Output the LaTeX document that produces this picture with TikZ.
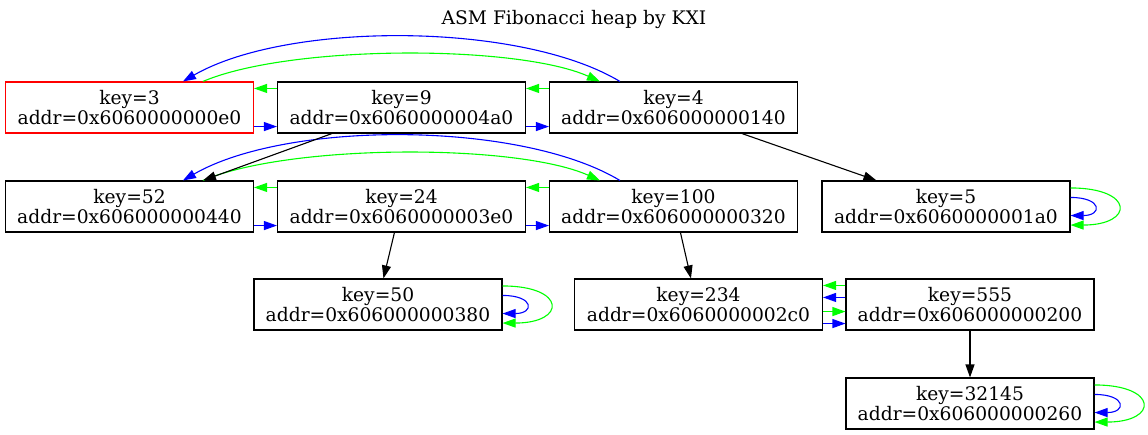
\documentclass[tikz,border=0pt]{standalone}
\usepackage{fontspec}
\setmainfont{DejaVu Serif}
\usetikzlibrary{arrows.meta}
\definecolor{nxc}{RGB}{0,0,255}
\definecolor{pvc}{RGB}{0,255,0}
\definecolor{rootc}{RGB}{255,0,0}
\begin{document}
\begin{tikzpicture}[x=1pt,y=-1pt,
  heap/.style={draw=black,line width=1.1pt,minimum width=248pt,minimum height=51pt,inner sep=0pt,align=center,font=\fontsize{18.67}{19.5}\selectfont},
  tip/.style={-{Triangle[length=13pt,width=9pt]}},
  nx/.style={draw=nxc,line width=1.1pt,tip},
  pv/.style={draw=pvc,line width=1.1pt,tip},
  ch/.style={draw=black,line width=1.1pt,tip},
  ttl/.style={font=\fontsize{18.67}{19.5}\selectfont}]
\useasboundingbox (0,0) rectangle (1148,434);
\node[ttl] (title) at (574,19) {ASM Fibonacci heap by KXI};
% row 1
\node[heap,draw=rootc] (k3) at (129.5,107.5) {key=3\\addr=0x6060000000e0};
\node[heap] (k9) at (401.5,107.5) {key=9\\addr=0x6060000004a0};
\node[heap] (k4) at (673.5,107.5) {key=4\\addr=0x606000000140};
% row 2
\node[heap] (k52) at (129.5,206.5) {key=52\\addr=0x606000000440};
\node[heap] (k24) at (401.5,206.5) {key=24\\addr=0x6060000003e0};
\node[heap] (k100) at (673.5,206.5) {key=100\\addr=0x606000000320};
\node[heap] (k5) at (946,206.5) {key=5\\addr=0x6060000001a0};
% row 3
\node[heap] (k50) at (378,304.5) {key=50\\addr=0x606000000380};
\node[heap] (k234) at (698.5,304.5) {key=234\\addr=0x6060000002c0};
\node[heap] (k555) at (970,304.5) {key=555\\addr=0x606000000200};
% row 4
\node[heap] (k32145) at (970,403.5) {key=32145\\addr=0x606000000260};

% row 1 links
\draw[pv] ([yshift=-7pt]k9.north west) -- ([yshift=-7pt]k3.north east);
\draw[nx] ([yshift=7pt]k3.south east) -- ([yshift=7pt]k9.south west);
\draw[pv] ([yshift=-7pt]k4.north west) -- ([yshift=-7pt]k9.north east);
\draw[nx] ([yshift=7pt]k9.south east) -- ([yshift=7pt]k4.south west);
\draw[nx] ([xshift=71pt]k4.north west) .. controls +(-100,-60) and +(104,-60) .. ([xshift=178pt]k3.north west);
\draw[pv] ([xshift=198pt]k3.north west) .. controls +(87,-37) and +(-83,-37) .. ([xshift=51pt]k4.north west);

% row 2 links
\draw[pv] ([yshift=-7pt]k24.north west) -- ([yshift=-7pt]k52.north east);
\draw[nx] ([yshift=7pt]k52.south east) -- ([yshift=7pt]k24.south west);
\draw[pv] ([yshift=-7pt]k100.north west) -- ([yshift=-7pt]k24.north east);
\draw[nx] ([yshift=7pt]k24.south east) -- ([yshift=7pt]k100.south west);
\draw[nx] ([xshift=71pt]k100.north west) .. controls +(-100,-60) and +(104,-60) .. ([xshift=178pt]k52.north west);
\draw[pv] ([xshift=198pt]k52.north west) .. controls +(87,-37) and +(-83,-37) .. ([xshift=51pt]k100.north west);

% children
\draw[ch] ([xshift=55pt]k9.south west) -- ([xshift=198pt]k52.north west);
\draw[ch] ([xshift=193pt]k4.south west) -- ([xshift=55pt]k5.north west);
\draw[ch] ([xshift=117.5pt]k24.south west) -- ([xshift=130pt]k50.north west);
\draw[ch] ([xshift=131.5pt]k100.south west) -- ([xshift=117pt]k234.north west);
\draw[ch] (k555.south) -- (k32145.north);

% row 3 links
\draw[pv] ([yshift=-7pt]k555.north west) -- ([yshift=-7pt]k234.north east);
\draw[nx] ([yshift=-19pt]k555.north west) -- ([yshift=-19pt]k234.north east);
\draw[pv] ([yshift=19pt]k234.south east) -- ([yshift=19pt]k555.south west);
\draw[nx] ([yshift=7pt]k234.south east) -- ([yshift=7pt]k555.south west);

% self loops
\foreach \n in {k5,k50,k32145}{
  \draw[nx] ([yshift=-17pt]\n.north east) .. controls +(32,0) and +(32,0) .. ([yshift=17pt]\n.south east);
  \draw[pv] ([yshift=-7.5pt]\n.north east) .. controls +(64,0) and +(64,0) .. ([yshift=7.5pt]\n.south east);
}
\end{tikzpicture}
\end{document}
